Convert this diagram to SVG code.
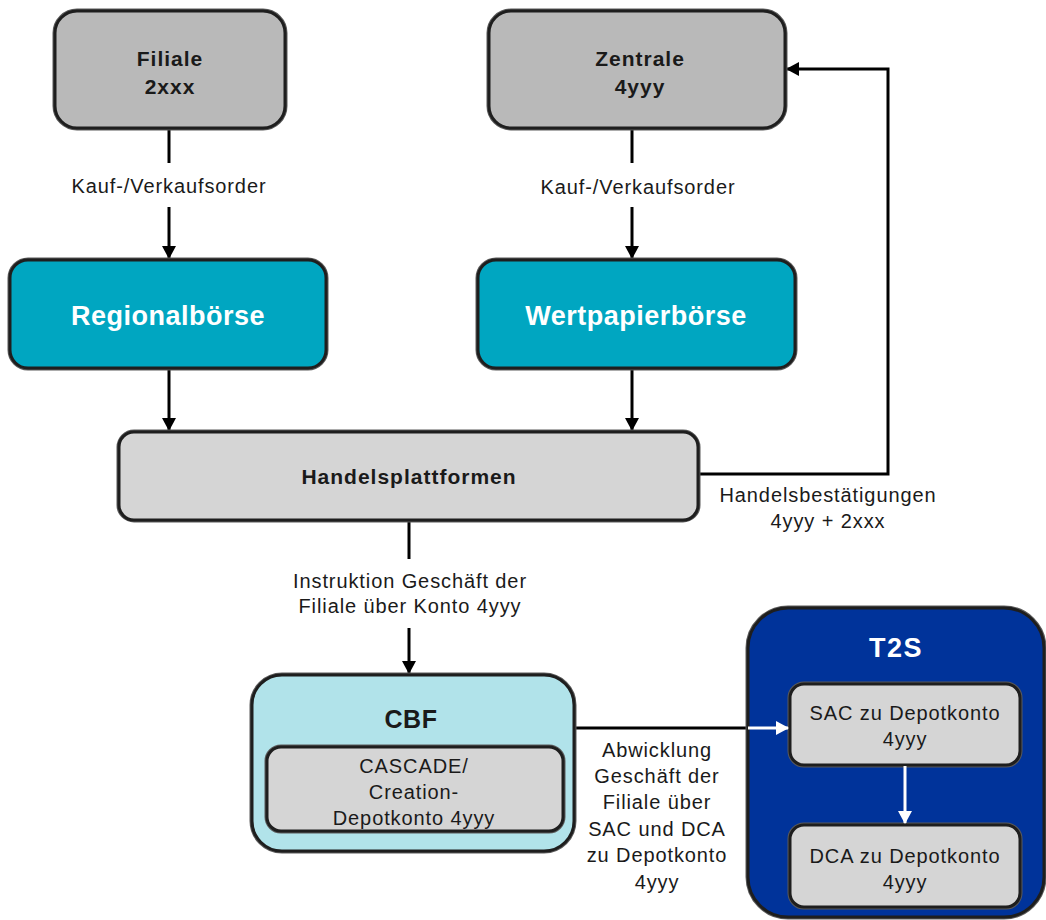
<svg xmlns="http://www.w3.org/2000/svg" width="1046" height="920" viewBox="0 0 1046 920">
<style>
  .box { stroke:#1e1e1e; stroke-width:3; }
  .sh { fill:none; stroke:#5a5a5a; stroke-width:5; }
  .gray { fill:#b9b9b9; }
  .light { fill:#d5d5d5; }
  .teal { fill:#00a6c1; }
  .cbf { fill:#b1e3ea; }
  .t2s { fill:#00339a; }
  .bt { font-family:"Liberation Sans", Arial, sans-serif; font-weight:bold; text-anchor:middle; fill:#1a1a1a; }
  .t { font-family:"Liberation Sans", Arial, sans-serif; font-size:20px; letter-spacing:0.9px; text-anchor:middle; fill:#1a1a1a; }
  .ln { stroke:#000; stroke-width:3; fill:none; }
  .wl { stroke:#fff; stroke-width:3; fill:none; }
</style>
<defs>
  <marker id="ab" markerWidth="14" markerHeight="14" refX="12" refY="7" orient="auto" markerUnits="userSpaceOnUse">
    <path d="M0,0 L13,7 L0,14 Z" fill="#000"/>
  </marker>
  <marker id="aw" markerWidth="14" markerHeight="14" refX="12" refY="7" orient="auto" markerUnits="userSpaceOnUse">
    <path d="M0,0 L13,7 L0,14 Z" fill="#fff"/>
  </marker>
</defs>
<rect width="1046" height="920" fill="#fff"/>

<g id="connectors">
  <line class="ln" x1="169" y1="128" x2="169" y2="163"/>
  <line class="ln" x1="169" y1="207" x2="169" y2="258" marker-end="url(#ab)"/>
  <line class="ln" x1="632" y1="128" x2="632" y2="163"/>
  <line class="ln" x1="632" y1="207" x2="632" y2="258" marker-end="url(#ab)"/>
  <line class="ln" x1="169" y1="368" x2="169" y2="430" marker-end="url(#ab)"/>
  <line class="ln" x1="632" y1="368" x2="632" y2="430" marker-end="url(#ab)"/>
  <polyline class="ln" points="698,474 888,474 888,69 787,69" marker-end="url(#ab)"/>
  <line class="ln" x1="409" y1="520" x2="409" y2="559"/>
  <line class="ln" x1="409" y1="628" x2="409" y2="673" marker-end="url(#ab)"/>
  <line class="ln" x1="574" y1="728" x2="750" y2="728"/>
</g>

<g id="filiale">
  <rect class="sh" x="55" y="11" width="230" height="117" rx="22"/>
  <rect class="box gray" x="55" y="11" width="230" height="117" rx="22"/>
  <text class="bt" x="170" y="66" font-size="21" letter-spacing="1">Filiale</text>
  <text class="bt" x="170" y="94" font-size="21" letter-spacing="1">2xxx</text>
</g>

<g id="zentrale">
  <rect class="sh" x="489" y="11" width="296" height="117" rx="22"/>
  <rect class="box gray" x="489" y="11" width="296" height="117" rx="22"/>
  <text class="bt" x="640" y="66" font-size="21" letter-spacing="1">Zentrale</text>
  <text class="bt" x="640" y="94" font-size="21" letter-spacing="1">4yyy</text>
</g>

<text class="t" x="169" y="193">Kauf-/Verkaufsorder</text>
<text class="t" x="638" y="194">Kauf-/Verkaufsorder</text>

<g id="regionalboerse">
  <rect class="sh" x="10" y="260" width="316" height="108" rx="18"/>
  <rect class="box teal" x="10" y="260" width="316" height="108" rx="18"/>
  <text class="bt" x="168" y="325" font-size="27" letter-spacing="0.5" style="fill:#fff">Regionalbörse</text>
</g>

<g id="wertpapierboerse">
  <rect class="sh" x="478" y="260" width="317" height="108" rx="18"/>
  <rect class="box teal" x="478" y="260" width="317" height="108" rx="18"/>
  <text class="bt" x="636" y="325" font-size="27" letter-spacing="0.5" style="fill:#fff">Wertpapierbörse</text>
</g>

<g id="handelsplattformen">
  <rect class="sh" x="119" y="432" width="579" height="88" rx="15"/>
  <rect class="box light" x="119" y="432" width="579" height="88" rx="15"/>
  <text class="bt" x="409" y="484" font-size="21" letter-spacing="1">Handelsplattformen</text>
</g>

<text class="t" x="828" y="502">Handelsbestätigungen</text>
<text class="t" x="828" y="528">4yyy + 2xxx</text>

<text class="t" x="410" y="588">Instruktion Geschäft der</text>
<text class="t" x="410" y="613">Filiale über Konto 4yyy</text>

<g id="cbf">
  <rect class="sh" x="252" y="675" width="322" height="176" rx="30"/>
  <rect class="box cbf" x="252" y="675" width="322" height="176" rx="30"/>
  <text class="bt" x="411" y="728" font-size="25" letter-spacing="0.5">CBF</text>
  <g id="cascade">
    <rect class="sh" x="267" y="747" width="296" height="84" rx="14"/>
    <rect class="box light" x="267" y="747" width="296" height="84" rx="14"/>
    <text class="t" x="414" y="773">CASCADE/</text>
    <text class="t" x="414" y="799">Creation-</text>
    <text class="t" x="414" y="825">Depotkonto 4yyy</text>
  </g>
</g>

<text class="t" x="657" y="757">Abwicklung</text>
<text class="t" x="657" y="783">Geschäft der</text>
<text class="t" x="657" y="809">Filiale über</text>
<text class="t" x="657" y="836">SAC und DCA</text>
<text class="t" x="657" y="862">zu Depotkonto</text>
<text class="t" x="657" y="889">4yyy</text>

<g id="t2s">
  <rect class="sh" x="748" y="608" width="296" height="309" rx="40"/>
  <rect class="box t2s" x="748" y="608" width="296" height="309" rx="40"/>
  <text class="bt" x="896" y="657" font-size="27" letter-spacing="1.5" style="fill:#fff">T2S</text>
  <g id="sac">
    <rect class="sh" x="790" y="684" width="230" height="81" rx="14"/>
    <rect class="box light" x="790" y="684" width="230" height="81" rx="14"/>
    <text class="t" x="905" y="720">SAC zu Depotkonto</text>
    <text class="t" x="905" y="746">4yyy</text>
  </g>
  <g id="dca">
    <rect class="sh" x="790" y="825" width="230" height="82" rx="14"/>
    <rect class="box light" x="790" y="825" width="230" height="82" rx="14"/>
    <text class="t" x="905" y="863">DCA zu Depotkonto</text>
    <text class="t" x="905" y="889">4yyy</text>
  </g>
</g>

<g id="connectors-white">
  <line class="wl" x1="748" y1="728" x2="788" y2="728" marker-end="url(#aw)"/>
  <line class="wl" x1="905" y1="766" x2="905" y2="823" marker-end="url(#aw)"/>
</g>
</svg>
